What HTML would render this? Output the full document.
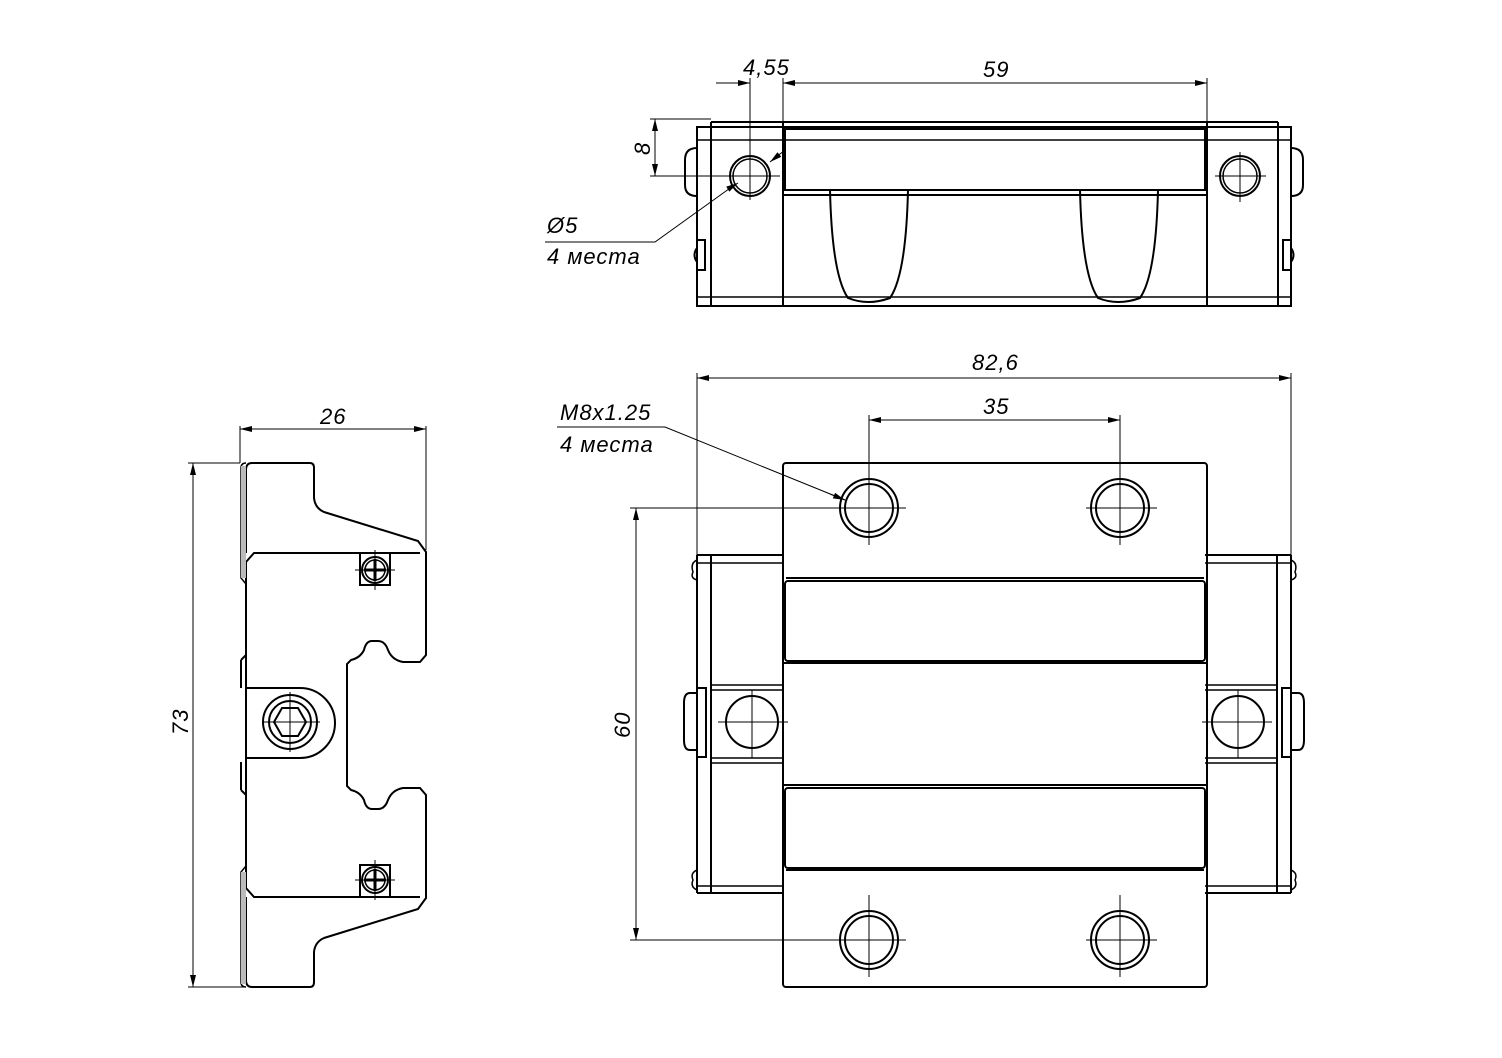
<!DOCTYPE html>
<html><head><meta charset="utf-8"><style>
html,body{margin:0;padding:0;background:#fff}
svg{display:block}
text{font-family:"Liberation Sans",sans-serif;font-style:italic;font-size:22px;letter-spacing:1px;fill:#000}
</style></head><body>
<svg width="1502" height="1058" viewBox="0 0 1502 1058" xmlns="http://www.w3.org/2000/svg">
<defs>
<marker id="a" viewBox="0 0 12 6" refX="12" refY="3" markerWidth="12" markerHeight="6" orient="auto-start-reverse" markerUnits="userSpaceOnUse"><path d="M0,0 L12,3 L0,6z" fill="#000"/></marker>
</defs>
<g fill="none" stroke="#000" stroke-width="2">
<g id="half">
<path d="M246 725 L246 562 L254 553 L420 553"/>
<path d="M246 553 L246 470 Q246 463 252 463 L310 463 Q314 463 314 468 L314 498 Q315 508 324 512 L418 541 L426 552 L426 655 L420 662 L403 662 Q392 660 388 650 Q385 641 378 641 L372 641 Q366 641 364 650 Q360 658 351 660 L347 664 L347 725"/>
<path d="M241 468 L241 578 L246 584 M241 468 Q241 463 246 463" stroke-width="1.5"/>
<rect x="241" y="466" width="5" height="112" fill="#bbb" stroke="none"/>
<path d="M241 660 L241 688 M241 660 L246 655"/>
<rect x="360" y="553" width="30" height="32"/>
<circle cx="375" cy="570" r="13"/>
<circle cx="375" cy="570" r="10" stroke-width="1.5"/>
<path d="M364 570 H386 M375 559 V581" stroke-width="3"/>
<path d="M355 570 H395 M375 550 V590" stroke-width="1"/>
</g>
<use href="#half" transform="translate(0,1450) scale(1,-1)"/>
<path d="M246 688 L300 688 A35 35 0 0 1 300 758 L246 758"/>
<circle cx="290" cy="722" r="27"/>
<circle cx="290" cy="722" r="21"/>
<path d="M282 708 L298 708 L306 722 L298 736 L282 736 L274 722Z"/>
<path d="M262 722 H320 M290 692 V752" stroke-width="1"/>
<g stroke-width="1">
<path d="M240 426 V463 M426 426 V550" />
<path d="M240 429 H426" marker-start="url(#a)" marker-end="url(#a)"/>
<path d="M188 463 H240 M188 987 H246"/>
<path d="M193 463 V987" marker-start="url(#a)" marker-end="url(#a)"/>
</g>

<path d="M711 122 H1278 M711 122 V306 M1278 122 V306"/>
<path d="M697 127 H1291 V306 H697 Z"/>
<path d="M697 140 H1291 M697 297 H1291" stroke-width="1.5"/>
<path d="M783 122 V306 M1207 122 V306"/>
<rect x="785" y="129" width="420" height="61"/>
<path d="M783 195 H1207"/>
<path d="M830 190 Q832 275 848 298 Q868 306 890 298 Q906 275 908 190"/>
<path d="M1080 190 Q1082 275 1098 298 Q1118 306 1140 298 Q1156 275 1158 190"/>
<circle cx="750" cy="176" r="20"/><circle cx="750" cy="176" r="17" stroke-width="1.5"/>
<circle cx="1240" cy="176" r="20"/><circle cx="1240" cy="176" r="17" stroke-width="1.5"/>
<path d="M697 148 Q685 148 685 160 V185 Q685 196 697 196"/>
<path d="M1291 148 Q1303 148 1303 160 V185 Q1303 196 1291 196"/>
<path d="M697 240 H705 V270 H697 M697 248 Q692 255 697 262"/>
<path d="M1291 240 H1283 V270 H1291 M1291 248 Q1296 255 1291 262"/>
<g stroke-width="1">
<path d="M750 78 V200 M720 176 H780 M1240 152 V202 M1215 176 H1266"/>
<path d="M783 78 V122 M1207 78 V122"/>
<path d="M716 83 H750" marker-end="url(#a)"/>
<path d="M818 83 H783" marker-end="url(#a)"/>
<path d="M783 83 H1207" marker-end="url(#a)"/>
<path d="M650 119 H711 M650 176 H730"/>
<path d="M655 119 V176" marker-start="url(#a)" marker-end="url(#a)"/>
<path d="M545 242 H655 L733 186"/>
<path d="M733 186 L738 183" marker-end="url(#a)"/>
<path d="M785 150 L770 162" marker-end="url(#a)"/>
</g>

<rect x="783" y="463" width="424" height="524" rx="3"/>
<path d="M786 578 H1204 M786 870 H1204"/>
<rect x="785" y="581" width="420" height="80" rx="3"/>
<rect x="785" y="788" width="420" height="80" rx="3"/>
<path d="M783 663 H1207 M783 785 H1207"/>
<g id="rl">
<path d="M697 555 H783 M697 893 H783 M697 555 V893 M711 555 V893"/>
<path d="M697 563 H783 M697 886 H783" stroke-width="1.5"/>
<path d="M711 685 H783 M711 690 H783 M711 758 H783 M711 763 H783" stroke-width="1.5"/>
<path d="M697 693 H690 Q684 693 684 703 V740 Q684 750 690 750 H697 M697 688 H706 V757 H697" />
<path d="M697 560 Q690 563 693 572 Q690 578 697 580 M697 870 Q690 873 693 880 Q690 887 697 890" stroke-width="1.5"/>
</g>
<use href="#rl" transform="translate(1988,0) scale(-1,1)"/>
<circle cx="752" cy="722" r="26"/>
<circle cx="1238" cy="722" r="26"/>
<g stroke-width="1"><path d="M718 722 H788 M752 690 V758 M1202 722 H1272 M1238 690 V758"/></g>
<g id="h">
<circle cx="869" cy="508" r="29"/><circle cx="869" cy="508" r="24"/>
<path d="M835 508 H906 M869 463 V545" stroke-width="1"/>
</g>
<use href="#h" transform="translate(251,0)"/>
<use href="#h" transform="translate(0,432)"/>
<use href="#h" transform="translate(251,432)"/>
<g stroke-width="1">
<path d="M697 373 V555 M1291 373 V555"/>
<path d="M697 378 H1291" marker-start="url(#a)" marker-end="url(#a)"/>
<path d="M869 415 V463 M1120 415 V463"/>
<path d="M869 420 H1120" marker-start="url(#a)" marker-end="url(#a)"/>
<path d="M630 508 H840 M630 940 H840"/>
<path d="M636 508 V940" marker-start="url(#a)" marker-end="url(#a)"/>
<path d="M557 427 H665 L845 500" />
<path d="M830 494 L845 500" marker-end="url(#a)"/>
</g>
</g>
<text x="320" y="424">26</text>
<text transform="translate(188,735) rotate(-90)">73</text>
<text x="743" y="75">4,55</text>
<text x="983" y="77">59</text>
<text transform="translate(650,155) rotate(-90)">8</text>
<text x="547" y="233">Ø5</text>
<text x="547" y="264">4 места</text>
<text x="972" y="370">82,6</text>
<text x="983" y="414">35</text>
<text transform="translate(630,738) rotate(-90)">60</text>
<text x="560" y="420">M8x1.25</text>
<text x="560" y="452">4 места</text>
</svg>
</body></html>
